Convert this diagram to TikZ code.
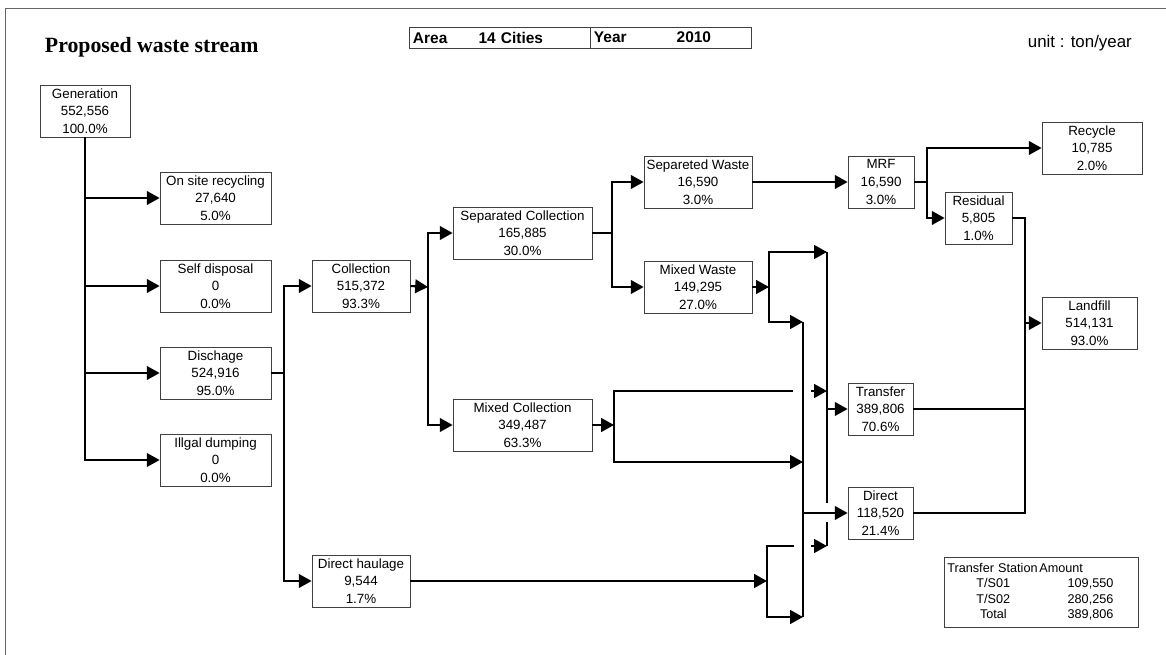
\documentclass[tikz,border=0pt]{standalone}
\usepackage{fontspec}
\setmainfont{Liberation Serif}
\setsansfont{Liberation Sans}
\usepackage{array}
\usetikzlibrary{arrows.meta}

\begin{document}
\begin{tikzpicture}[x=0.025cm,y=-0.025cm,>={Triangle[length=0.32cm,width=0.34cm]},
	flow/.style={line width=1.5pt},
	stage/.style={draw=black!75, line width=0.5pt, align=center, font=\sffamily\fontsize{9.5}{12.5}\selectfont, minimum height=1.3cm, inner sep=1pt},
	head box/.style={draw=black!75, line width=0.5pt, minimum height=0.525cm, inner xsep=0.1cm, inner ysep=0pt, align=left, font=\sffamily\bfseries\fontsize{11}{13}\selectfont}]
	\useasboundingbox (0,0) rectangle (1166,655);
	\draw[black!60, line width=0.6pt] (5,655) -- (5,8) -- (1166,8);
	
	% Header
	\node[anchor=base west, font=\bfseries\fontsize{15.5}{18}\selectfont] (title) at (40,53) {Proposed waste stream};
	\node[head box, minimum width=4.525cm, text width=4.325cm] (area) at (499.5,37.5) {Area\hspace{0.78cm}14 Cities};
	\node[head box, minimum width=4.025cm, text width=3.825cm] (year) at (670.5,37.5) {Year\hspace{1.25cm}2010};
	\node[anchor=base west, font=\sffamily\fontsize{12}{14}\selectfont] (unit) at (1023,48) {unit : ton/year};
	
	% Nodes
	\node[stage, minimum width=2.25cm] (gen) at (85,111) {Generation\\552,556\\100.0\%};
	\node[stage, minimum width=2.775cm] (onsite) at (215.5,198) {On site recycling\\27,640\\5.0\%};
	\node[stage, minimum width=2.775cm] (self) at (215.5,286) {Self disposal\\0\\0.0\%};
	\node[stage, minimum width=2.775cm] (disch) at (215.5,373) {Dischage\\524,916\\95.0\%};
	\node[stage, minimum width=2.775cm] (illegal) at (215.5,460) {Illgal dumping\\0\\0.0\%};
	\node[stage, minimum width=2.45cm] (coll) at (361,286) {Collection\\515,372\\93.3\%};
	\node[stage, minimum width=2.45cm] (haul) at (361,581) {Direct haulage\\9,544\\1.7\%};
	\node[stage, minimum width=3.475cm] (sepcoll) at (522.5,233) {Separated Collection\\165,885\\30.0\%};
	\node[stage, minimum width=3.475cm] (mixcoll) at (522.5,425) {Mixed Collection\\349,487\\63.3\%};
	\node[stage, minimum width=2.7cm] (sepwaste) at (698,182) {Separeted Waste\\16,590\\3.0\%};
	\node[stage, minimum width=2.7cm] (mixwaste) at (698,287) {Mixed Waste\\149,295\\27.0\%};
	\node[stage, minimum width=1.65cm] (mrf) at (881,182) {MRF\\16,590\\3.0\%};
	\node[stage, minimum width=1.625cm] (trans) at (880.5,409) {Transfer\\389,806\\70.6\%};
	\node[stage, minimum width=1.625cm] (direct) at (880.5,513) {Direct\\118,520\\21.4\%};
	\node[stage, minimum width=2.5cm] (recycle) at (1092,148) {Recycle\\10,785\\2.0\%};
	\node[stage, minimum width=1.675cm] (residual) at (978.5,218) {Residual\\5,805\\1.0\%};
	\node[stage, minimum width=2.375cm] (landfill) at (1089.5,323) {Landfill\\514,131\\93.0\%};
	\node[stage, anchor=north west, minimum width=4.85cm, minimum height=1.75cm, text width=4.7cm, inner xsep=0.075cm, align=left, font=\sffamily\fontsize{9}{11}\selectfont] (stations) at (944,557)
	{\begin{tabular}{@{}>{\centering\arraybackslash}p{2.3cm}@{}>{\raggedleft\arraybackslash}p{1.85cm}@{}}
		\multicolumn{1}{@{}l@{}}{Transfer Station} & \multicolumn{1}{@{}l@{}}{Amount}\\
		T/S01 & 109,550\\
		T/S02 & 280,256\\
		Total & 389,806
	\end{tabular}};
	
	% Junctions
	\coordinate (dbus) at (284,373);
	\coordinate (cbus) at (428,287);
	\coordinate (sbus) at (612,233);
	\coordinate (wbus) at (769,287);
	\coordinate (mbus) at (614,425);
	\coordinate (hbus) at (767,581);
	\coordinate (t1) at (827,252);
	\coordinate (t2) at (827,391);
	\coordinate (t3) at (827,546);
	\coordinate (d1) at (803,322);
	\coordinate (d2) at (803,462);
	\coordinate (d3) at (803,617);
	\coordinate (g1) at (793,391);
	\coordinate (g2) at (811,391);
	\coordinate (g3) at (794,546);
	\coordinate (g4) at (811,546);
	\coordinate (g5) at (827,503);
	\coordinate (g6) at (827,522);
	\coordinate (rbus) at (927,182);
	\coordinate (l1) at (1025,218);
	\coordinate (l2) at (1025,513);
	
	% Connectors
	\draw[flow,->] (gen.south) |- (onsite.west);
	\draw[flow,->] (gen.south) |- (self.west);
	\draw[flow,->] (gen.south) |- (disch.west);
	\draw[flow,->] (gen.south) |- (illegal.west);
	
	\draw[flow] (disch.east) -- (dbus);
	\draw[flow,->] (dbus) |- (coll.west);
	\draw[flow,->] (dbus) |- (haul.west);
	
	\draw[flow,->] (coll.east) -- (cbus);
	\draw[flow,->] (cbus) |- (sepcoll.west);
	\draw[flow,->] (cbus) |- (mixcoll.west);
	
	\draw[flow] (sepcoll.east) -- (sbus);
	\draw[flow,->] (sbus) |- (sepwaste.west);
	\draw[flow,->] (sbus) |- (mixwaste.west);
	\draw[flow,->] (sepwaste.east) -- (mrf.west);
	
	\draw[flow,->] (mixwaste.east) -- (wbus);
	\draw[flow,->] (wbus) |- (t1);
	\draw[flow,->] (wbus) |- (d1);
	
	\draw[flow,->] (mixcoll.east) -- (mbus);
	\draw[flow] (mbus) |- (g1);
	\draw[flow,->] (g2) -- (t2);
	\draw[flow,->] (mbus) |- (d2);
	
	\draw[flow,->] (haul.east) -- (hbus);
	\draw[flow] (hbus) |- (g3);
	\draw[flow,->] (g4) -- (t3);
	\draw[flow,->] (hbus) |- (d3);
	
	\draw[flow] (t1) -- (g5);
	\draw[flow] (g6) -- (t3);
	\draw[flow] (d1) -- (d3);
	\draw[flow,->] (t1 |- trans.west) -- (trans.west);
	\draw[flow,->] (d1 |- direct.west) -- (direct.west);
	
	\draw[flow] (mrf.east) -- (rbus);
	\draw[flow,->] (rbus) |- (recycle.west);
	\draw[flow,->] (rbus) |- (residual.west);
	
	\draw[flow] (residual.east) -- (l1) -- (l2) -- (direct.east);
	\draw[flow] (trans.east) -- (l1 |- trans.east);
	\draw[flow,->] (l1 |- landfill.west) -- (landfill.west);
\end{tikzpicture}
\end{document}
